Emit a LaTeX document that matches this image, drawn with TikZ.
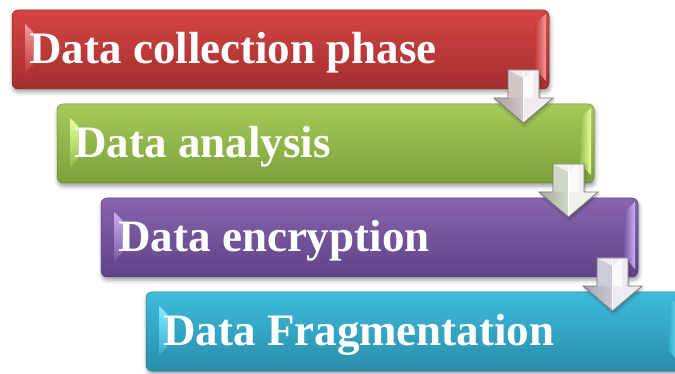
\documentclass[tikz,border=0pt]{standalone}
\usepackage{fontspec}
\setmainfont{Liberation Serif}
\usetikzlibrary{calc,shadows.blur}

% box colours: top, middle, bottom, facet highlight
\definecolor{redT}{HTML}{D54545}\definecolor{redM}{HTML}{C43A3B}\definecolor{redB}{HTML}{A32E2F}\definecolor{redH}{HTML}{F49A9A}
\definecolor{grnT}{HTML}{A5CB59}\definecolor{grnM}{HTML}{94BD4C}\definecolor{grnB}{HTML}{7BA03B}\definecolor{grnH}{HTML}{E6FF9C}
\definecolor{purT}{HTML}{8765AF}\definecolor{purM}{HTML}{775AA2}\definecolor{purB}{HTML}{5E4286}\definecolor{purH}{HTML}{CDB0F2}
\definecolor{cyaT}{HTML}{3DBCDB}\definecolor{cyaM}{HTML}{34ABCD}\definecolor{cyaB}{HTML}{2A8DAB}\definecolor{cyaH}{HTML}{86EEFF}
% arrow colours: shaded side, lit side
\definecolor{arAL}{HTML}{D3C6C6}\definecolor{arAR}{HTML}{F1EBEB}
\definecolor{arBL}{HTML}{D0D7C6}\definecolor{arBR}{HTML}{EFF2EA}
\definecolor{arCL}{HTML}{CDCAD9}\definecolor{arCR}{HTML}{EDEBF3}
\definecolor{arEdge}{HTML}{7C7C7C}

% one stage: name, x, y, colour prefix, label
\newcommand{\stagebox}[5]{%
  \node[stagebox, top color=#4T, middle color=#4M, bottom color=#4B, draw=#4B!85!black] (#1) at (#2,#3) {};
  % left bevel facet
  \shade[top color=#4H, bottom color=#4M]
    ($(#1.north west)+(13,14)$) -- ($(#1.north west)+(21,22)$) --
    ($(#1.south west)+(21,-24)$) -- ($(#1.south west)+(13,-16)$) -- cycle;
  % right bevel facet
  \shade[left color=#4M, right color=#4H]
    ($(#1.north east)+(-14,14)$) -- ($(#1.north east)+(-3,4)$) --
    ($(#1.south east)+(-3,-8)$) -- ($(#1.south east)+(-14,-20)$) -- cycle;
  \node[stagelabel] (#1t) at ($(#1.north west)+(17.3,53.5)$) {#5};
}

% block arrow below the right end of a stage: box name, shaded colour, lit colour
\newcommand{\stagearrow}[3]{%
  \begin{scope}[shift={(#1.south east)}]
    \fill[#2, blur shadow={shadow xshift=1pt, shadow yshift=-2pt, shadow blur radius=2pt, shadow opacity=30}]
      (-41,-19) -- (-10,-19) -- (-10,9) -- (4,9) -- (-25.5,34) -- (-55,9) -- (-41,9) -- cycle;
    % lit right half of shaft and head
    \fill[#3] (-25.5,-19) -- (-10,-19) -- (-10,9) -- (4,9) -- (-25.5,34) -- cycle;
    % darker left facet of the head
    \shade[left color=#2!80!black, right color=#2] (-55,9) -- (-25.5,9) -- (-25.5,34) -- cycle;
    % top bevel of the shaft and the bright ridge strip
    \fill[#3] (-41,-19) -- (-25.5,-19) -- (-25.5,-11) -- cycle;
    \fill[white, opacity=0.75] (-25.5,-11) -- (-16,-19) -- (-16,9) -- (-25.5,9) -- cycle;
    \draw[white, line width=0.8pt] (-25.5,-19) -- (-25.5,34);
    \draw[arEdge, line width=0.8pt, line join=miter]
      (-41,-19) -- (-10,-19) -- (-10,9) -- (4,9) -- (-25.5,34) -- (-55,9) -- (-41,9) -- cycle;
  \end{scope}
}

\begin{document}
\begin{tikzpicture}[x=1pt, y=-1pt,
  stagebox/.style={rounded corners=6pt, minimum width=537pt, minimum height=79pt,
    anchor=north west, inner sep=0pt, outer sep=0pt, line width=0.5pt,
    blur shadow={shadow xshift=1pt, shadow yshift=-3pt, shadow blur radius=4pt, shadow opacity=40}},
  stagelabel/.style={text=white, font=\bfseries\fontsize{45}{50}\selectfont,
    anchor=base west, inner sep=0pt, outer sep=0pt}]
  \useasboundingbox (0,0) rectangle (675,374);

  \stagebox{b1}{12}{10}{red}{Data collection phase}
  \stagebox{b2}{57}{104}{grn}{Data analysis}
  \stagebox{b3}{101}{198}{pur}{Data encryption}
  \stagebox{b4}{146}{292}{cya}{Data Fragmentation}

  \stagearrow{b1}{arAL}{arAR}
  \stagearrow{b2}{arBL}{arBR}
  \stagearrow{b3}{arCL}{arCR}
\end{tikzpicture}
\end{document}
